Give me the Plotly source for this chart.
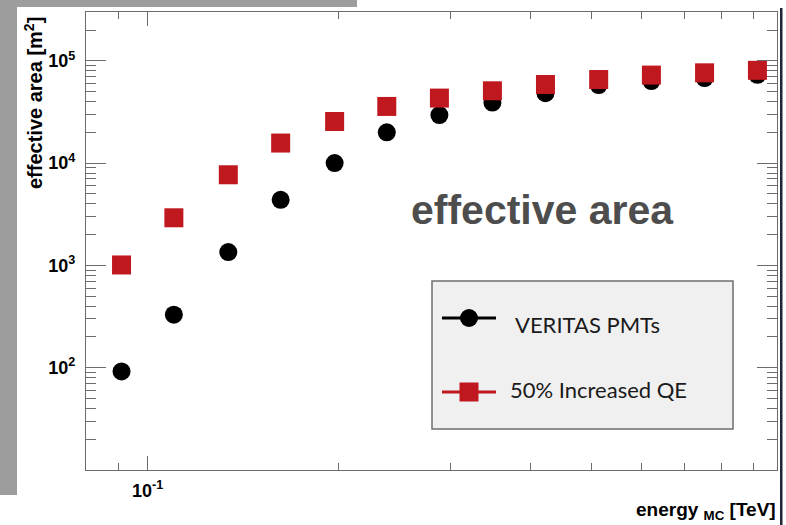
import plotly.graph_objects as go

# Effective area vs. Monte-Carlo energy for two photodetector configurations
energy_tev = [0.091, 0.110, 0.134, 0.162, 0.197, 0.238, 0.288,
              0.349, 0.423, 0.513, 0.621, 0.753, 0.912]
area_veritas_pmt = [92, 330, 1350, 4380, 10000, 20000, 29500,
                    39100, 48300, 57900, 63300, 67800, 73000]
area_high_qe = [1010, 2920, 7690, 15700, 25500, 35800, 43200,
                50900, 58700, 65600, 72500, 76300, 80700]

series_names = ["VERITAS PMTs", "50% Increased QE"]
y_tick_vals = [1e2, 1e3, 1e4, 1e5]
y_tick_text = ["10<sup>2</sup>", "10<sup>3</sup>", "10<sup>4</sup>", "10<sup>5</sup>"]
x_tick_vals = [0.1]
x_tick_text = ["10<sup>-1</sup>"]

BLACK = "#000000"
RED = "#C0181F"
FRAME = "#6b6b6b"

W, H = 786, 525
PL, PR, PT, PB = 86, 777, 12, 470


def fx(px):
    return (px - PL) / (PR - PL)


def fy(py):
    return (PB - py) / (PB - PT)


fig = go.Figure()

fig.add_trace(go.Scatter(
    x=energy_tev, y=area_veritas_pmt, mode="markers", name=series_names[0],
    marker=dict(symbol="circle", size=18, color=BLACK, line=dict(width=0)),
    showlegend=False, cliponaxis=False,
))
fig.add_trace(go.Scatter(
    x=energy_tev, y=area_high_qe, mode="markers", name=series_names[1],
    marker=dict(symbol="square", size=19, color=RED, line=dict(width=0)),
    showlegend=False, cliponaxis=False,
))

# legend swatches drawn in a small inset axis inside the legend box
for row_y, color, symbol, msize in [(0.75, BLACK, "circle", 18), (0.25, RED, "square", 19)]:
    fig.add_trace(go.Scatter(
        x=[0, 1], y=[row_y, row_y], mode="lines", xaxis="x2", yaxis="y2",
        line=dict(color=color, width=3), showlegend=False, hoverinfo="skip",
    ))
    fig.add_trace(go.Scatter(
        x=[0.5], y=[row_y], mode="markers", xaxis="x2", yaxis="y2",
        marker=dict(symbol=symbol, size=msize, color=color),
        showlegend=False, hoverinfo="skip",
    ))

minor_x = [0.08, 0.09] + [k / 10 for k in range(2, 10)]
minor_y = [m * 10 ** e for e in range(1, 6) for m in range(2, 10)]

axis_common = dict(
    type="log", showgrid=False, zeroline=False,
    showline=True, linecolor=FRAME, linewidth=1.3, mirror="ticks",
    ticks="inside", tickcolor=FRAME, tickwidth=1,
    tickfont=dict(family="Liberation Sans", size=18, color="black", weight="bold"),
    tickmode="array",
)

fig.update_layout(
    width=W, height=H,
    margin=dict(l=PL, r=W - PR, t=PT, b=H - PB, pad=0),
    paper_bgcolor="white", plot_bgcolor="rgba(0,0,0,0)",
    showlegend=False,
    xaxis=dict(
        **axis_common,
        range=[-1.0969, -0.0092],
        tickvals=x_tick_vals, ticktext=x_tick_text, ticklen=14,
        ticklabelstandoff=4,
        minor=dict(tickmode="array", tickvals=minor_x, ticks="inside",
                   ticklen=7, tickcolor=FRAME, tickwidth=1),
    ),
    yaxis=dict(
        **axis_common,
        range=[1.0, 5.477],
        tickvals=y_tick_vals, ticktext=y_tick_text, ticklen=20,
        ticklabelstandoff=6,
        minor=dict(tickmode="array", tickvals=minor_y, ticks="inside",
                   ticklen=10, tickcolor=FRAME, tickwidth=1),
    ),
    xaxis2=dict(domain=[fx(442), fx(496)], range=[0, 1], visible=False,
                anchor="y2", fixedrange=True),
    yaxis2=dict(domain=[fy(429), fy(281)], range=[0, 1], visible=False,
                anchor="x2", fixedrange=True),
)

shapes = [
    # slide frame strips around the figure
    dict(type="rect", xref="paper", yref="paper", layer="below",
         x0=fx(0), x1=fx(17), y0=fy(495), y1=fy(0),
         fillcolor="#9d9d9d", line=dict(width=0)),
    dict(type="rect", xref="paper", yref="paper", layer="below",
         x0=fx(0), x1=fx(357), y0=fy(7), y1=fy(0),
         fillcolor="#9d9d9d", line=dict(width=0)),
    dict(type="rect", xref="paper", yref="paper", layer="below",
         x0=fx(780), x1=fx(782.5), y0=fy(525), y1=fy(8),
         fillcolor="#1e2733", line=dict(width=0)),
    # legend box
    dict(type="rect", xref="paper", yref="paper", layer="below",
         x0=fx(432), x1=fx(733), y0=fy(429), y1=fy(281),
         fillcolor="#f0f0f0", line=dict(color="#6e6e6e", width=1.5)),
]
fig.update_layout(shapes=shapes)

annotations = [
    dict(text="effective area", x=fx(542.5), y=fy(210), xref="paper", yref="paper",
         xanchor="center", yanchor="middle", showarrow=False,
         font=dict(family="Liberation Sans", size=41, color="#4d4d4d", weight="bold")),
    dict(text="effective area [m<sup>2</sup>]", x=fx(34), y=fy(103),
         xref="paper", yref="paper", textangle=-90,
         xanchor="center", yanchor="middle", showarrow=False,
         font=dict(family="Liberation Sans", size=20, color="black", weight="bold")),
    dict(text="energy <sub>MC</sub> [TeV]", x=fx(778), y=fy(511),
         xref="paper", yref="paper", xanchor="right", yanchor="middle", showarrow=False,
         font=dict(family="Liberation Sans", size=19, color="black", weight="bold")),
    dict(text=series_names[0], x=fx(513), y=fy(324), xref="paper", yref="paper",
         xanchor="left", yanchor="middle", showarrow=False,
         font=dict(family="Lato", size=22, color="#1a1a1a")),
    dict(text=series_names[1], x=fx(508), y=fy(389), xref="paper", yref="paper",
         xanchor="left", yanchor="middle", showarrow=False,
         font=dict(family="Lato", size=22, color="#1a1a1a")),
]
fig.update_layout(annotations=annotations)

fig.write_html("out.html")
